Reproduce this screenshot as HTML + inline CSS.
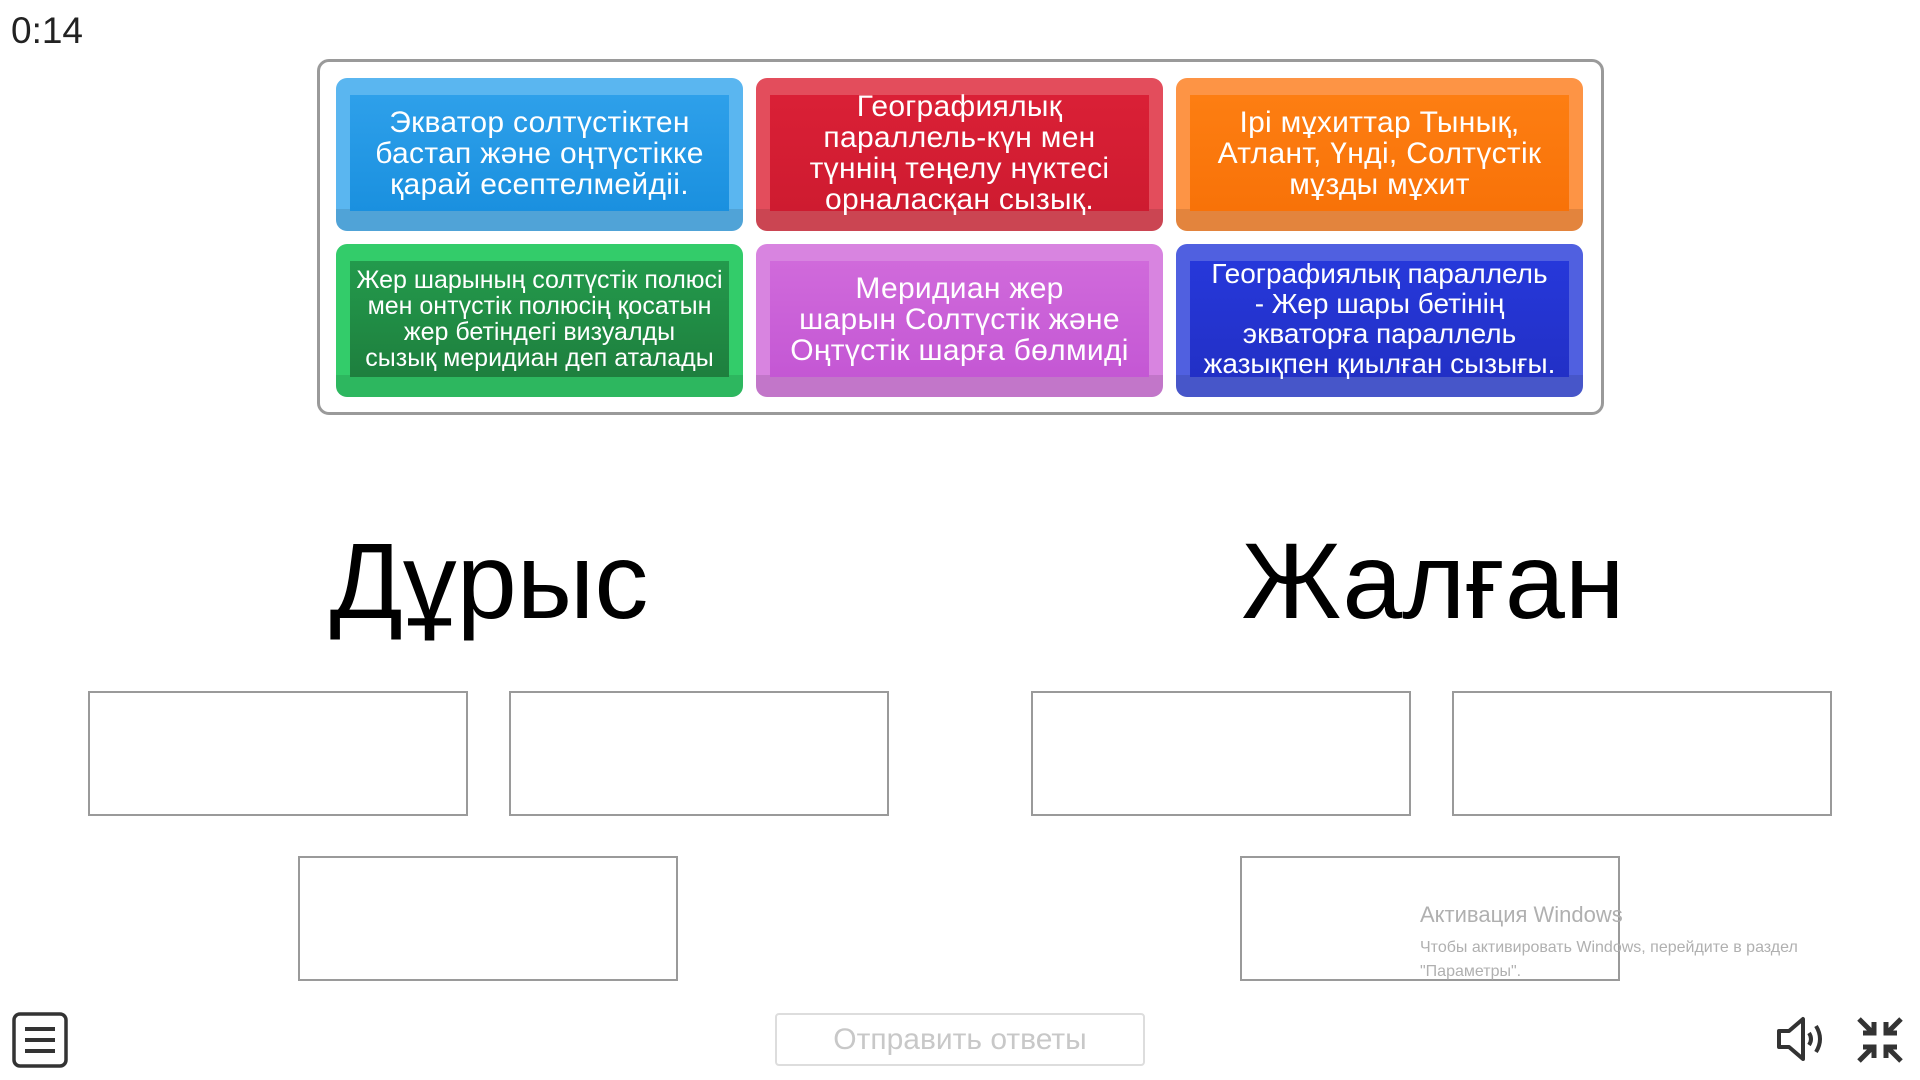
<!DOCTYPE html>
<html><head><meta charset="utf-8"><style>
*{margin:0;padding:0;box-sizing:border-box}
body{width:1920px;height:1080px;background:#fff;position:relative;overflow:hidden;font-family:"Liberation Sans","DejaVu Sans",sans-serif}
.abs{position:absolute}
#timer{left:11px;top:10px;font-size:37px;color:#222}
#cont{left:317px;top:59px;width:1287px;height:356px;border:3px solid #9a9a9a;border-radius:12px}
.tile{position:absolute;width:407px;height:153px;border-radius:11px;overflow:hidden;color:#fff;}
.tile .in{position:absolute;left:14px;right:14px;top:17px;bottom:20px;display:flex;align-items:center;justify-content:center;text-align:center;font-size:30px;line-height:31px;white-space:nowrap;z-index:1;letter-spacing:0.3px}
.tile:after{content:"";position:absolute;left:0;right:0;bottom:0;height:22px;background:rgba(0,0,0,.1)}
.title{font-size:108px;color:#000;text-align:center;width:600px}
.box{position:absolute;width:380px;height:125px;border:2px solid #9a9a9a}
</style></head><body>
<div class="abs" id="timer">0:14</div>
<div class="abs" id="cont"></div>
<div class="tile" style="left:336px;top:78px;background:#5ab6f0"><div class="in" style="background:linear-gradient(#2ea0ea,#1a90df)">Экватор солтүстіктен<br>бастап және оңтүстікке<br>қарай есептелмейдіі.</div></div>
<div class="tile" style="left:756px;top:78px;background:#e34d5c"><div class="in" style="background:linear-gradient(#da2036,#ce1b30)">Географиялық<br>параллель-күн мен<br>түннің теңелу нүктесі<br>орналасқан сызық.</div></div>
<div class="tile" style="left:1176px;top:78px;background:#fd9445"><div class="in" style="background:linear-gradient(#fd7e12,#f87208)">Ірі мұхиттар Тынық,<br>Атлант, Үнді, Солтүстік<br>мұзды мұхит</div></div>
<div class="tile" style="left:336px;top:244px;background:#33cc6a"><div class="in" style="background:linear-gradient(#239a4c,#1e7f3e);font-size:25px;line-height:26px;letter-spacing:0">Жер шарының солтүстік полюсі<br>мен онтүстік полюсің қосатын<br>жер бетіндегі визуалды<br>сызық меридиан деп аталады</div></div>
<div class="tile" style="left:756px;top:244px;background:#d884e0"><div class="in" style="background:linear-gradient(#d06adb,#c457d4)">Меридиан жер<br>шарын Солтүстік және<br>Оңтүстік шарға бөлмиді</div></div>
<div class="tile" style="left:1176px;top:244px;background:#5060e0"><div class="in" style="background:linear-gradient(#2638da,#2230c6);font-size:28px;line-height:30px;letter-spacing:0">Географиялық параллель<br>- Жер шары бетінің<br>экваторға параллель<br>жазықпен қиылған сызығы.</div></div>
<div class="abs title" style="left:189px;top:518px">Дұрыс</div>
<div class="abs title" style="left:1133px;top:518px">Жалған</div>
<div class="box" style="left:88px;top:691px"></div>
<div class="box" style="left:509px;top:691px"></div>
<div class="box" style="left:1031px;top:691px"></div>
<div class="box" style="left:1452px;top:691px"></div>
<div class="box" style="left:298px;top:856px"></div>
<div class="box" style="left:1240px;top:856px"></div>
<div class="abs" style="left:1420px;top:902px;font-size:22px;color:#b0b0b0">Активация Windows</div>
<div class="abs" style="left:1420px;top:936px;font-size:16px;color:#b0b0b0;line-height:24px">Чтобы активировать Windows, перейдите в раздел<br>"Параметры".</div>
<div class="abs" style="left:775px;top:1013px;width:370px;height:53px;border:2px solid #ddd;border-radius:4px;color:#c8c8c8;font-size:30px;text-align:center;line-height:49px">Отправить ответы</div>
<svg class="abs" style="left:12px;top:1012px" width="58" height="58" viewBox="0 0 58 58"><rect x="2" y="2" width="52" height="52" rx="6" fill="none" stroke="#333" stroke-width="3.5"/><path d="M13 17h30M13 28h30M13 39h30" stroke="#333" stroke-width="4"/></svg>
<svg class="abs" style="left:1775px;top:1015px" width="52" height="48" viewBox="0 0 52 48"><path d="M4 16h10l14-12v40L14 32H4z" fill="none" stroke="#333" stroke-width="4" stroke-linejoin="round"/><path d="M34 18q4 6 0 12M41 11q8 13 0 26" fill="none" stroke="#333" stroke-width="4"/></svg>
<svg class="abs" style="left:1855px;top:1015px" width="50" height="50" viewBox="0 0 50 50" stroke="#333" stroke-width="5" fill="none"><path d="M4 4l14 14M8 18h11V7M46 4L32 18M42 18H31V7M4 46l14-14M8 32h11v11M46 46L32 32M42 32H31v11"/></svg>
</body></html>
